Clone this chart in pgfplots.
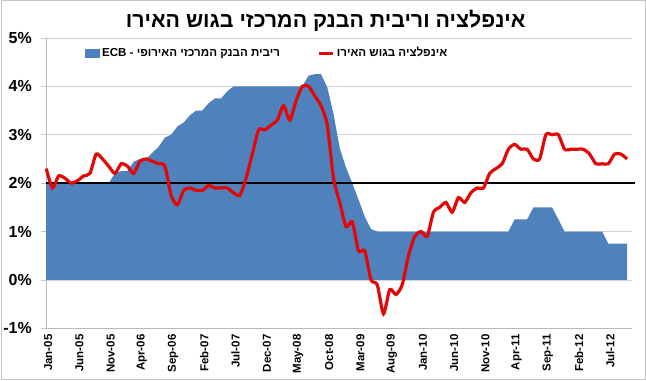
\documentclass[border=0pt]{standalone}
\usepackage{pgfplots}
\pgfplotsset{compat=1.18}
\usepackage{pgfplotstable}
\usepackage{fontspec}
\setmainfont{Liberation Sans}
\newfontfamily\hebfont[Script=Hebrew]{Liberation Sans}
\TeXXeTstate=1
\definecolor{ecbblue}{RGB}{79,129,189}
\definecolor{inflred}{RGB}{226,8,8}

\pgfplotstableread{
idx infl ecb
0 2.3 2.0
1 1.9 2.0
2 2.15 2.0
3 2.1 2.0
4 2.0 2.0
5 2.05 2.0
6 2.15 2.0
7 2.2 2.0
8 2.6 2.0
9 2.5 2.0
10 2.35 2.0
11 2.2 2.2
12 2.4 2.25
13 2.35 2.25
14 2.2 2.44
15 2.45 2.5
16 2.5 2.5
17 2.45 2.63
18 2.4 2.75
19 2.35 2.94
20 1.75 3.0
21 1.55 3.17
22 1.85 3.25
23 1.9 3.4
24 1.85 3.5
25 1.85 3.5
26 1.95 3.65
27 1.9 3.75
28 1.9 3.75
29 1.9 3.9
30 1.8 4.0
31 1.75 4.0
32 2.1 4.0
33 2.6 4.0
34 3.1 4.0
35 3.1 4.0
36 3.2 4.0
37 3.3 4.0
38 3.6 4.0
39 3.3 4.0
40 3.7 4.0
41 4.0 4.0
42 4.0 4.22
43 3.8 4.25
44 3.6 4.25
45 3.2 3.98
46 2.1 3.43
47 1.6 2.72
48 1.1 2.32
49 1.2 2.0
50 0.6 1.66
51 0.6 1.31
52 0.0 1.05
53 -0.1 1.0
54 -0.7 1.0
55 -0.2 1.0
56 -0.3 1.0
57 -0.1 1.0
58 0.5 1.0
59 0.9 1.0
60 1.0 1.0
61 0.9 1.0
62 1.4 1.0
63 1.5 1.0
64 1.6 1.0
65 1.4 1.0
66 1.7 1.0
67 1.6 1.0
68 1.8 1.0
69 1.9 1.0
70 1.9 1.0
71 2.2 1.0
72 2.3 1.0
73 2.4 1.0
74 2.7 1.0
75 2.8 1.25
76 2.7 1.25
77 2.7 1.25
78 2.5 1.5
79 2.5 1.5
80 3.0 1.5
81 3.0 1.5
82 3.0 1.25
83 2.7 1.0
84 2.7 1.0
85 2.7 1.0
86 2.7 1.0
87 2.6 1.0
88 2.4 1.0
89 2.4 1.0
90 2.4 0.75
91 2.6 0.75
92 2.6 0.75
93 2.5 0.75
}\datatable

\begin{document}
\begin{tikzpicture}
\begin{axis}[
  scale only axis, width=587pt, height=291pt,
  xmin=0, xmax=93.8, ymin=-1, ymax=5,
  axis x line*=bottom, axis y line*=left,
  axis line style={gray!55, line width=0.75pt},
  ymajorgrids, grid style={gray!35, line width=0.75pt},
  ytick={-1,0,1,2,3,4,5},
  yticklabels={-1\%,0\%,1\%,2\%,3\%,4\%,5\%},
  xtick={0,5,...,90},
  xticklabels={Jan-05,Jun-05,Nov-05,Apr-06,Sep-06,Feb-07,Jul-07,Dec-07,May-08,Oct-08,Mar-09,Aug-09,Jan-10,Jun-10,Nov-10,Apr-11,Sep-11,Feb-12,Jul-12},
  x tick label style={rotate=90, anchor=east, font=\bfseries\fontsize{11.5}{11.5}\selectfont, inner sep=1pt, yshift=-2pt},
  y tick label style={font=\bfseries\fontsize{16}{16}\selectfont, xshift=-6pt},
  tick align=outside, major tick length=5pt,
  ytick style={gray!45, line width=0.75pt},
  xtick style={draw=none},
  clip=false,
  legend columns=2,
  legend style={draw=none, fill=none, at={(0.066,0.948)}, anchor=west, inner sep=0pt,
    font=\bfseries\fontsize{11.6}{11.6}\selectfont\hebfont,
    /tikz/every even column/.append style={column sep=36pt}},
]
\addplot[fill=ecbblue, draw=none,
  legend image code/.code={\fill[ecbblue] (0pt,-4.5pt) rectangle (15pt,4.5pt);}]
  table[x=idx,y=ecb]{\datatable} \closedcycle;
\addlegendentry{\beginR ריבית הבנק המרכזי האירופי - \beginL ECB\endL\endR}
\addplot[black, line width=2.3pt, forget plot] coordinates {(0,2) (94.3,2)};
\addplot[inflred, line width=3.2pt, smooth, tension=0.4,
  legend image code/.code={\draw[inflred, line width=3pt] (0pt,0pt) -- (14pt,0pt);}]
  table[x=idx,y=infl]{\datatable};
\addlegendentry{\beginR אינפלציה בגוש האירו\endR}
\node[font=\bfseries\fontsize{21.4}{21.4}\selectfont\hebfont, anchor=base, inner sep=0pt]
  at (axis description cs:0.477,1) [yshift=10pt] {\beginR אינפלציה וריבית הבנק המרכזי בגוש האירו\endR};
\end{axis}
\draw[gray!45, line width=0.75pt] (-44.6pt,-51.6pt) rectangle (600.6pt,328.6pt);
\end{tikzpicture}
\end{document}
